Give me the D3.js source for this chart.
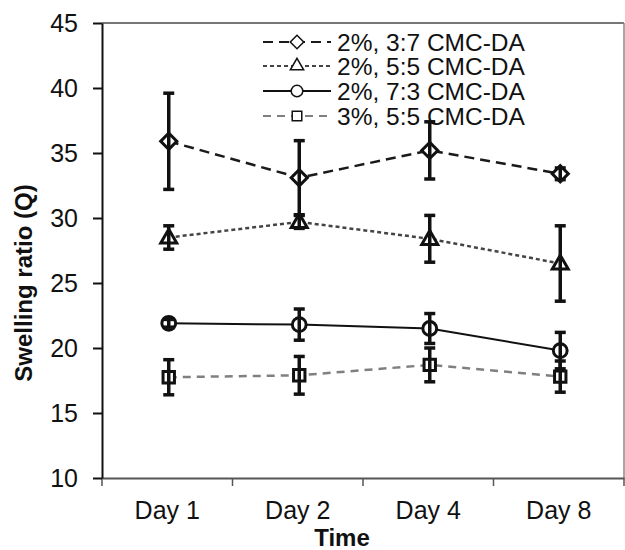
<!DOCTYPE html>
<html>
  <head>
    <meta charset="utf-8">
    <title>Swelling ratio</title>
    <script src="https://d3js.org/d3.v7.min.js"></script>
    <style>
      body { margin: 0; background: white; }
      text { font-family: 'Liberation Sans', Arial, sans-serif; fill: #111; }
      .tick_label { font-size: 25px; }
      .axis_title { font-size: 24px; font-weight: bold; }
      .legend_text { font-size: 24.5px; }
    </style>
  </head>
  <body>
    <script>

      // data
      var days = ["Day 1", "Day 2", "Day 4", "Day 8"];
      var seriesNames = ["2%, 3:7 CMC-DA", "2%, 5:5 CMC-DA", "2%, 7:3 CMC-DA", "3%, 5:5 CMC-DA"];
      var mean_37 = [35.9, 33.1, 35.2, 33.4];
      var err_37  = [3.7, 2.85, 2.2, 0.45];
      var mean_55 = [28.5, 29.7, 28.4, 26.5];
      var err_55  = [0.9, 0.5, 1.8, 2.9];
      var mean_73 = [21.9, 21.8, 21.5, 19.8];
      var err_73  = [0.3, 1.2, 1.15, 1.4];
      var mean_3p = [17.75, 17.9, 18.7, 17.8];
      var err_3p  = [1.35, 1.45, 1.3, 1.2];
      var yTicks = [10, 15, 20, 25, 30, 35, 40, 45];

      var width = 625, height = 550;
      var plotLeft = 102, plotRight = 624, plotTop = 23, plotBottom = 478;

      // diamond = square turned 45 degrees, so it is as wide as tall
      var styles = [
        { symbol: d3.symbolSquare, rot: 45, size: 130, color: "#1a1a1a", dash: "10,6", width: 2.5 },
        { symbol: d3.symbolTriangle, rot: 0, size: 110, color: "#444", dash: "4,3", width: 2.5 },
        { symbol: d3.symbolCircle, rot: 0, size: 150, color: "#111", dash: null, width: 2 },
        { symbol: d3.symbolSquare, rot: 0, size: 130, color: "#808080", dash: "8,6", width: 2.5 }
      ];

      var series = [
        { name: seriesNames[0], mean: mean_37, err: err_37 },
        { name: seriesNames[1], mean: mean_55, err: err_55 },
        { name: seriesNames[2], mean: mean_73, err: err_73 },
        { name: seriesNames[3], mean: mean_3p, err: err_3p }
      ];

      var svg = d3.select("body").append("svg")
        .attr("width", width)
        .attr("height", height);

      var xScale = d3.scaleBand().domain(days).range([plotLeft, plotRight]);
      var yScale = d3.scaleLinear().domain([10, 45]).range([plotBottom, plotTop]);
      function cx(d) { return xScale(d) + xScale.bandwidth() / 2 + 1.5; }

      // frame: top and right border lines
      svg.append("line").attr("x1", plotLeft).attr("x2", plotRight).attr("y1", plotTop).attr("y2", plotTop)
        .attr("stroke", "#777").attr("stroke-width", 2);
      svg.append("line").attr("x1", plotRight).attr("x2", plotRight).attr("y1", plotTop).attr("y2", plotBottom)
        .attr("stroke", "#888").attr("stroke-width", 1.5);

      // x axis
      var xAxis = svg.append("g")
        .attr("transform", "translate(0," + plotBottom + ")")
        .call(d3.axisBottom(xScale).tickSize(0).tickFormat(""));
      xAxis.select(".domain").attr("stroke", "#555").attr("stroke-width", 2);
      var xBounds = [plotLeft].concat(days.map(function(d) { return xScale(d) + xScale.bandwidth(); }));
      svg.selectAll(".xtick")
        .data(xBounds)
        .enter()
        .append("line")
        .attr("x1", function(d) { return d; })
        .attr("x2", function(d) { return d; })
        .attr("y1", plotBottom)
        .attr("y2", plotBottom + 8)
        .attr("stroke", "#555")
        .attr("stroke-width", 1.5);
      svg.selectAll(".day_label")
        .data(days)
        .enter()
        .append("text")
        .attr("class", "tick_label")
        .attr("x", function(d) { return xScale(d) + xScale.bandwidth() / 2; })
        .attr("y", 519)
        .attr("text-anchor", "middle")
        .text(function(d) { return d; });

      // y axis
      var yAxis = svg.append("g")
        .attr("transform", "translate(" + plotLeft + ",0)")
        .call(d3.axisLeft(yScale).tickValues(yTicks).tickSize(9).tickPadding(15).tickSizeOuter(0));
      yAxis.select(".domain").attr("stroke", "#111").attr("stroke-width", 2);
      yAxis.selectAll(".tick line").attr("stroke", "#111").attr("stroke-width", 2);
      yAxis.selectAll(".tick text")
        .attr("class", "tick_label")
        .attr("fill", "#111");

      // axis titles
      svg.append("text")
        .attr("class", "axis_title")
        .attr("transform", "translate(32,283) rotate(-90)")
        .attr("text-anchor", "middle")
        .text("Swelling ratio (Q)");
      svg.append("text")
        .attr("class", "axis_title")
        .attr("x", 342)
        .attr("y", 546)
        .attr("text-anchor", "middle")
        .text("Time");

      // lines
      var line = d3.line()
        .x(function(d, i) { return cx(days[i]); })
        .y(function(d) { return yScale(d); });

      series.forEach(function(s, k) {
        var st = styles[k];
        svg.append("path")
          .datum(s.mean)
          .attr("d", line)
          .attr("fill", "none")
          .attr("stroke", st.color)
          .attr("stroke-width", st.width)
          .attr("stroke-dasharray", st.dash);
      });

      // markers
      series.forEach(function(s, k) {
        var st = styles[k];
        var sym = d3.symbol().type(st.symbol).size(st.size);
        svg.selectAll(".marker" + k)
          .data(s.mean)
          .enter()
          .append("path")
          .attr("d", sym)
          .attr("transform", function(d, i) {
            var dy = k == 1 ? 1 : 0;
            return "translate(" + cx(days[i]) + "," + (yScale(d) + dy) + ") rotate(" + st.rot + ")";
          })
          .attr("fill", "white")
          .attr("stroke", "#111")
          .attr("stroke-width", 3);
      });

      // error bars on top
      series.forEach(function(s, k) {
        var g = svg.append("g").attr("stroke", "#111").attr("stroke-width", 3.5);
        s.mean.forEach(function(m, i) {
          var x = cx(days[i]);
          var y1 = yScale(m + s.err[i]), y2 = yScale(m - s.err[i]);
          g.append("line").attr("x1", x).attr("x2", x).attr("y1", y1).attr("y2", y2);
          g.append("line").attr("x1", x - 5.5).attr("x2", x + 5.5).attr("y1", y1).attr("y2", y1);
          g.append("line").attr("x1", x - 5.5).attr("x2", x + 5.5).attr("y1", y2).attr("y2", y2);
        });
      });

      // legend
      var legend = svg.append("g");
      var legendY = [42, 66, 91, 116];
      series.forEach(function(s, k) {
        var st = styles[k];
        var y = legendY[k];
        legend.append("line")
          .attr("x1", 263).attr("x2", 331).attr("y1", y).attr("y2", y)
          .attr("stroke", st.color)
          .attr("stroke-width", 2)
          .attr("stroke-dasharray", st.dash);
        legend.append("path")
          .attr("d", d3.symbol().type(st.symbol).size(st.size * 0.7))
          .attr("transform", "translate(297," + y + ") rotate(" + st.rot + ")")
          .attr("fill", "white")
          .attr("stroke", "#111")
          .attr("stroke-width", 1.5);
        legend.append("text")
          .attr("class", "legend_text")
          .attr("x", 337)
          .attr("y", y + 9)
          .text(s.name);
      });

    </script>
  </body>
</html>
